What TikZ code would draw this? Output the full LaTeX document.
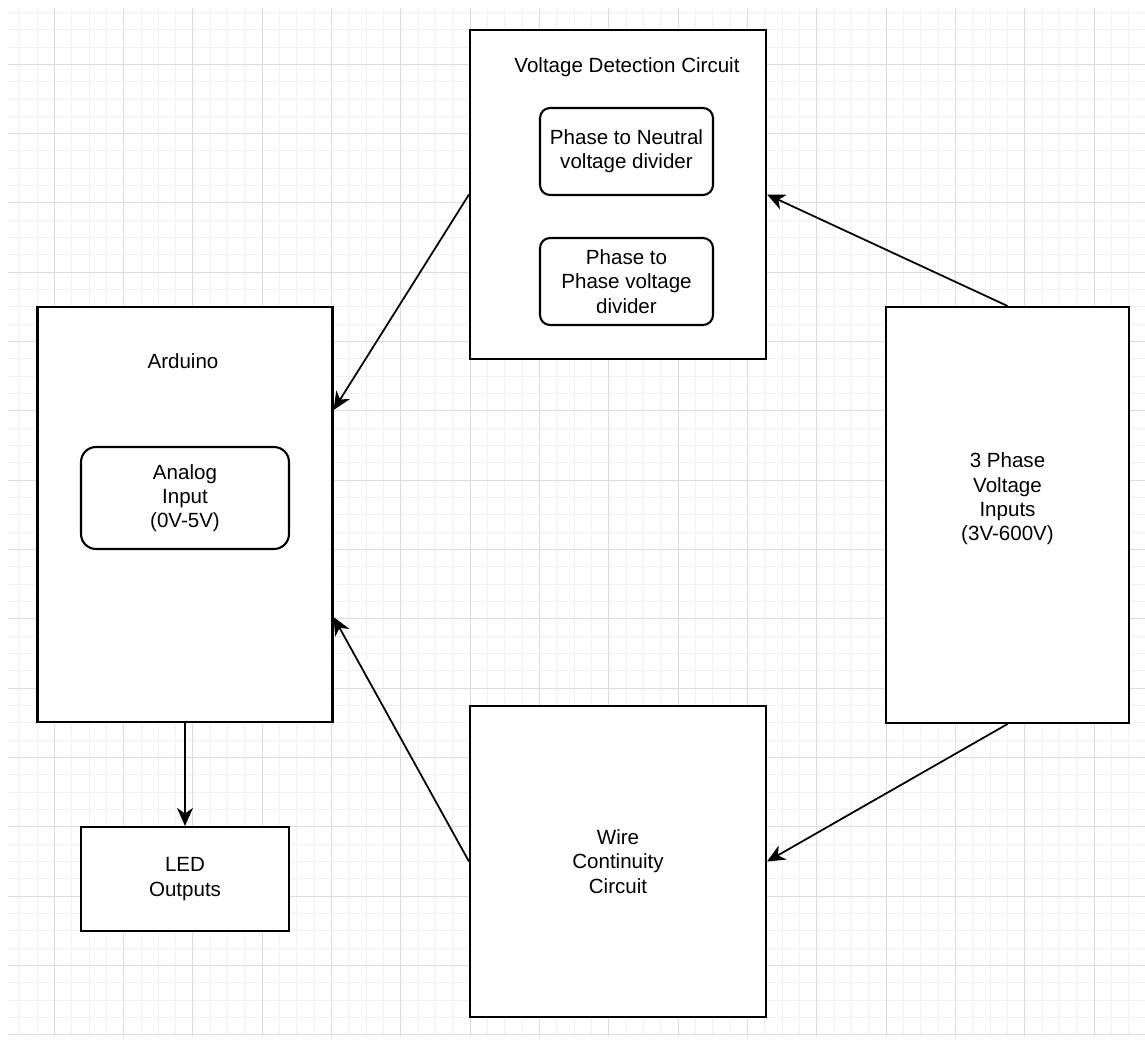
\documentclass[tikz,border=0pt]{standalone}
\usepackage{fontspec}
\setmainfont{Liberation Sans}
\usetikzlibrary{arrows.meta}

\definecolor{gridminor}{HTML}{F1F1F1}
\definecolor{gridmajor}{HTML}{DDDDDD}

\begin{document}
\begin{tikzpicture}[x=0.02cm, y=-0.02cm, >={Stealth[length=3.6mm, width=3.2mm, inset=1.1mm]},
    box/.style={draw, line width=1.2pt, fill=white, inner sep=0pt, align=center},
    roundbox/.style={box, rounded corners=0.2cm},
    lbl/.style={inner sep=0pt, align=center},
    conn/.style={->, line width=1pt},
    every node/.style={font=\fontsize{11.7}{13.8}\selectfont}]
    \useasboundingbox[fill=white] (0,0) rectangle (1145,1040);

    % grid
    \begin{scope}
        \clip (8,8) rectangle (1145,1037);
        \foreach \k in {1,...,65}
            \draw[gridminor, line width=0.5pt] (2.3+17.33*\k,8) -- (2.3+17.33*\k,1037);
        \foreach \k in {0,...,59}
            \draw[gridminor, line width=0.5pt] (8,12.3+17.33*\k) -- (1145,12.3+17.33*\k);
        \foreach \k in {3,7,...,63}
            \draw[gridmajor, line width=0.5pt] (2.3+17.33*\k,8) -- (2.3+17.33*\k,1037);
        \foreach \k in {3,7,...,59}
            \draw[gridmajor, line width=0.5pt] (8,12.3+17.33*\k) -- (1145,12.3+17.33*\k);
    \end{scope}

    % Voltage detection circuit
    \node[box, minimum width=5.92cm, minimum height=6.58cm] (vdc) at (618,194.5) {};
    \node[lbl] (vdctitle) at (627,67) {Voltage Detection Circuit};
    \node[roundbox, minimum width=3.46cm, minimum height=1.74cm] (ptn) at (626.5,151.5)
        {Phase to Neutral\\voltage divider};
    \node[roundbox, minimum width=3.46cm, minimum height=1.74cm] (ptp) at (626.5,281.5)
        {Phase to\\Phase voltage\\divider};

    % Arduino
    \node[box, minimum width=5.9cm, minimum height=8.3cm] (ard) at (185,514.5) {};
    \node[lbl] (ardtitle) at (183,361) {Arduino};
    \node[box, rounded corners=0.3cm, minimum width=4.16cm, minimum height=2.04cm] (ain) at (185,498)
        {Analog\\Input\\(0V-5V)};

    % 3 phase inputs
    \node[box, minimum width=4.86cm, minimum height=8.32cm] (ph3) at (1007.5,515) {};
    \node[lbl] (ph3txt) at (1007.5,499) {3 Phase\\Voltage\\Inputs\\(3V-600V)};

    % wire continuity + LEDs
    \node[box, minimum width=5.92cm, minimum height=6.22cm] (wcc) at (618,861.5)
        {Wire\\Continuity\\Circuit};
    \node[box, minimum width=4.16cm, minimum height=2.08cm] (led) at (185,879)
        {LED\\Outputs};

    % connections
    \draw[conn] (vdc.west) -- ([yshift=2.09cm]ard.east);
    \draw[conn] (ph3.north) -- (vdc.east);
    \draw[conn] (ph3.south) -- (wcc.east);
    \draw[conn] (wcc.west) -- ([yshift=-2.05cm]ard.east);
    \draw[conn] (ard.south) -- (led.north);
\end{tikzpicture}
\end{document}
